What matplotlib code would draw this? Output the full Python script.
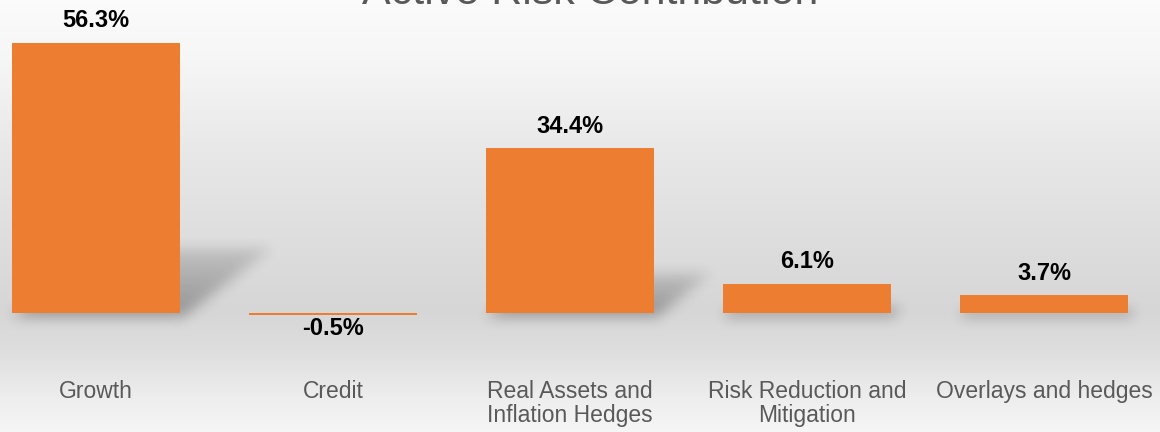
#!/usr/bin/env python3
# -*- coding: utf-8 -*-

"""
Active risk contribution by asset class, drawn as an Excel-style
column chart with gradient background and soft bar shadows.
"""

import numpy as np
import matplotlib
matplotlib.use("Agg")
import matplotlib.pyplot as plt
from matplotlib.path import Path
from matplotlib.transforms import blended_transform_factory

# ===============================
# DATA
# ===============================
categories = [
    "Growth",
    "Credit",
    "Real Assets and\nInflation Hedges",
    "Risk Reduction and\nMitigation",
    "Overlays and hedges",
]
contribution = [56.3, -0.5, 34.4, 6.1, 3.7]
value_labels = ["56.3%", "-0.5%", "34.4%", "6.1%", "3.7%"]
title = "Active Risk Contribution"

# ===============================
# STYLE
# ===============================
BAR_COLOR = "#ED7D31"
TEXT_GRAY = "#595959"
FONT = ["Liberation Sans", "DejaVu Sans"]
W, H = 1160, 432
BAR_WIDTH = 0.709

plt.rcParams["font.family"] = FONT

fig = plt.figure(figsize=(W / 100, H / 100), dpi=100)
ax = fig.add_axes([0, 0, 1, 1])
ax.set_xlim(-0.405, 4.489)
ax.set_ylim(-24.8, 65.2)
ax.axis("off")
ext = [*ax.get_xlim(), *ax.get_ylim()]

# vertical background gradient (light top, gray middle, light bottom)
rows = np.arange(H)
stops_px = [0, 60, 150, 250, 310, 350, 400, H]
stops_val = [0.985, 0.965, 0.91, 0.865, 0.84, 0.87, 0.935, 0.965]
shade = np.interp(rows, stops_px, stops_val)
bg = np.repeat(shade[:, None], 2, axis=1)
ax.imshow(np.dstack([bg, bg, bg]), extent=ext, aspect="auto",
          origin="upper", zorder=0, interpolation="bilinear")

# bars
x = np.arange(len(categories))
bars = ax.bar(x, contribution, width=BAR_WIDTH, color=BAR_COLOR, zorder=3)

# perspective shadows, rasterised in display pixels and blurred
px, py = np.meshgrid(np.arange(W) + 0.5, np.arange(H) + 0.5)
pts = np.column_stack([px.ravel(), py.ravel()])
shadow = np.zeros(H * W)
for rect, val in zip(bars, contribution):
    (x0, yb), (x1, yt) = ax.transData.transform(
        [(rect.get_x(), 0), (rect.get_x() + rect.get_width(), val)])
    if val <= 0:
        continue
    hpx = yt - yb
    rise, run = 0.24 * hpx, 0.34 * hpx
    poly = Path([(x0, yb - 4), (x1 + 3, yb - 4), (x1 + run, yb + rise),
                 (x0 + run, yb + rise), (x0, yb - 4)])
    inside = poly.contains_points(pts)
    fade = 1.0 - 0.6 * np.clip((pts[:, 1] - yb) / max(rise, 1), 0, 1)
    shadow = np.maximum(shadow, inside * fade)
shadow = shadow.reshape(H, W)

sigma = 6.5
k = np.arange(-20, 21)
kernel = np.exp(-0.5 * (k / sigma) ** 2)
kernel /= kernel.sum()
shadow = np.apply_along_axis(lambda r: np.convolve(r, kernel, mode="same"), 1, shadow)
shadow = np.apply_along_axis(lambda c: np.convolve(c, kernel, mode="same"), 0, shadow)
rgba = np.zeros((H, W, 4))
rgba[..., 3] = 0.30 * shadow
ax.imshow(rgba, extent=ext, aspect="auto", origin="lower", zorder=2)

# value labels
for xi, val, lab in zip(x, contribution, value_labels):
    offset = 11 if val >= 0 else -14.5
    ax.annotate(lab, (xi, val), xytext=(0, offset), textcoords="offset points",
                ha="center", va="baseline", fontsize=17, fontweight="bold",
                color="black", zorder=5)

# category labels under the chart
trans = blended_transform_factory(ax.transData, ax.transAxes)
for xi, cat in zip(x, categories):
    ax.text(xi, 1 - 380 / H, cat, transform=trans, ha="center", va="top",
            fontsize=16.5, color=TEXT_GRAY, linespacing=1.06, zorder=5)

# title, partly clipped by the top edge
fig.text(590 / W, 1 - 4 / H, title, ha="center", va="baseline",
         fontsize=31, color=TEXT_GRAY)

fig.savefig("out.png", dpi=100)
plt.close(fig)
